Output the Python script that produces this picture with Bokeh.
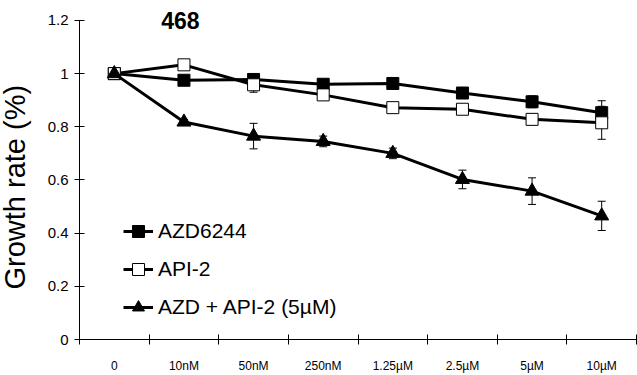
import math
from bokeh.plotting import figure
from bokeh.models import (Range1d, FixedTicker, Whisker, ColumnDataSource, Label,
                          Legend, LegendItem, TeeHead, Title)
from bokeh.embed import file_html
from bokeh.resources import INLINE

categories = ["0", "10nM", "50nM", "250nM", "1.25\u00b5M", "2.5\u00b5M", "5\u00b5M", "10\u00b5M"]
azd6244 = [1.0, 0.975, 0.978, 0.960, 0.963, 0.927, 0.894, 0.853]
azd6244_err = [0.0, 0.008, 0.010, 0.008, 0.008, 0.018, 0.022, 0.045]
api2 = [1.0, 1.033, 0.958, 0.920, 0.872, 0.866, 0.828, 0.815]
api2_err = [0.0, 0.006, 0.028, 0.010, 0.008, 0.010, 0.020, 0.062]
combo = [1.0, 0.818, 0.765, 0.745, 0.700, 0.602, 0.558, 0.465]
combo_err = [0.0, 0.010, 0.048, 0.020, 0.020, 0.035, 0.050, 0.055]
y_ticks = [0, 0.2, 0.4, 0.6, 0.8, 1, 1.2]
series_names = ["AZD6244", "API-2", "AZD + API-2 (5\u00b5M)"]

FONT = "Liberation Sans"
SHIFT = 20  # canvas shifted left so the y-axis title sits at the window edge, as in the original
xs = [i + 0.5 for i in range(len(categories))]

p = figure(width=637 + SHIFT, height=375, output_backend="svg", toolbar_location=None,
           x_range=Range1d(0, len(categories)), y_range=Range1d(0, 1.2 * 340 / 320),
           min_border_left=79 + SHIFT, min_border_top=0, min_border_bottom=35,
           min_border_right=1)
p.styles = {"margin-left": f"-{SHIFT}px"}
p.outline_line_color = None
p.xgrid.visible = False
p.ygrid.visible = False
p.background_fill_color = "white"
p.border_fill_color = "white"

# x axis: labels at category centres, ticks at the boundaries (minor ticks)
p.xaxis.ticker = FixedTicker(ticks=xs, minor_ticks=list(range(len(categories) + 1)))
p.xaxis.major_label_overrides = {x: c for x, c in zip(xs, categories)}
p.xaxis.major_tick_in = 0
p.xaxis.major_tick_out = 0
p.xaxis.minor_tick_in = 5
p.xaxis.minor_tick_out = 5
p.xaxis.minor_tick_line_color = "black"
p.xaxis.major_label_standoff = 14
p.xaxis.major_label_text_font = FONT
p.xaxis.major_label_text_font_size = "12px"
p.xaxis.major_label_text_color = "black"
p.xaxis.axis_line_color = "black"

p.yaxis.ticker = FixedTicker(ticks=y_ticks, minor_ticks=[])
p.yaxis.bounds = (0, 1.2)
p.yaxis.major_label_overrides = {0: "0", 1: "1"}
p.yaxis.major_tick_in = 5
p.yaxis.major_tick_out = 5
p.yaxis.major_tick_line_color = "black"
p.yaxis.major_label_standoff = 6
p.yaxis.major_label_text_font = FONT
p.yaxis.major_label_text_font_size = "15px"
p.yaxis.major_label_text_color = "black"
p.yaxis.axis_line_color = "black"

# y-axis title as a left-side Title, starting 50 px above the frame bottom
p.add_layout(Title(text="Growth rate (%)", align="left", offset=50, standoff=27,
                   text_font=FONT, text_font_size="29px", text_font_style="normal",
                   text_color="black"), "left")

series = [
    (azd6244, azd6244_err, "square", "black", 12),
    (api2, api2_err, "square", "white", 12),
    (combo, combo_err, "triangle", "black", 14),
]

for vals, errs, marker, fill, size in series:
    src = ColumnDataSource(dict(x=xs,
                                lo=[v - e for v, e in zip(vals, errs)],
                                hi=[v + e for v, e in zip(vals, errs)]))
    w = Whisker(source=src, base="x", upper="hi", lower="lo", line_color="black",
                line_width=1, level="underlay",
                upper_head=TeeHead(size=8, line_color="black", line_width=1),
                lower_head=TeeHead(size=8, line_color="black", line_width=1))
    p.add_layout(w)

items = []
for (vals, errs, marker, fill, size), name in zip(series, series_names):
    src = ColumnDataSource(dict(x=xs, y=vals))
    r1 = p.line("x", "y", source=src, line_color="black", line_width=3)
    r2 = p.scatter("x", "y", source=src, marker=marker, size=size, fill_color=fill,
                   line_color="black", line_width=1)
    items.append(LegendItem(label=name, renderers=[r1, r2]))

legend = Legend(items=items, location=(44, 13), glyph_width=30, glyph_height=38,
                label_height=38, spacing=0, padding=0, margin=0, label_standoff=5,
                label_text_font=FONT, label_text_font_size="21px",
                label_text_color="black", border_line_alpha=0,
                background_fill_alpha=0)
p.add_layout(legend)

p.add_layout(Label(x=1.45, y=1.2, text="468", text_font=FONT, text_font_size="23px",
                   text_font_style="bold", text_align="center", text_baseline="middle",
                   text_color="black"))

open("out.html", "w").write(file_html(p, INLINE))
